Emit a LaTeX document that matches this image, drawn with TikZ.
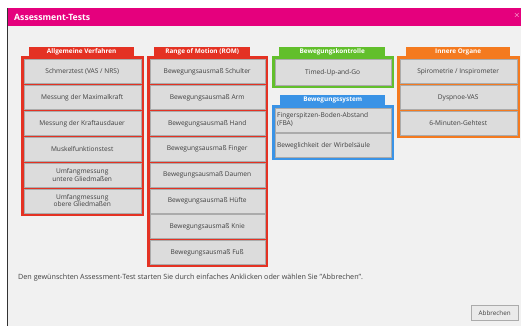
\documentclass[tikz,border=0pt]{standalone}
\usepackage{fontspec}
\setmainfont{Open Sans}
\usepackage{tikz}
\definecolor{titlemag}{HTML}{E5007D}
\definecolor{romred}{HTML}{E43223}
\definecolor{kontrgreen}{HTML}{62BF2C}
\definecolor{systblue}{HTML}{3A93E6}
\definecolor{organorange}{HTML}{F47A1F}
\definecolor{btnfill}{HTML}{DCDCDC}
\definecolor{btnline}{HTML}{ABABAB}
\definecolor{bgwin}{HTML}{F1F1F1}

\begin{document}
\begin{tikzpicture}[x=1pt, y=-1pt,
  btn/.style={draw=btnline, fill=btnfill, inner sep=0pt, anchor=north west,
    minimum height=24pt, align=center, text=black!75,
    font=\fontsize{6.6}{7.4}\selectfont},
  tab/.style={inner sep=0pt, anchor=north west, minimum height=10pt,
    text=white, font=\bfseries\fontsize{6.4}{6.4}\selectfont}]
\useasboundingbox (0,0) rectangle (521,326);
\fill[white] (0,0) rectangle (521,326);
% window
\fill[bgwin] (7,26) rectangle (521,326);
\fill[titlemag] (7,8) rectangle (521,26);
\draw[black!80, line width=1pt] (7,8) -- (7,326);
\node[anchor=west, text=white, font=\bfseries\fontsize{8.7}{9}\selectfont, inner sep=0pt] (title) at (14,17) {Assessment-Tests};
\node[text=white, font=\bfseries\fontsize{8}{8}\selectfont, inner sep=0pt] (close) at (517,16) {$\times$};

% Allgemeine Verfahren
\node[tab, fill=romred, minimum width=105pt] (tabAllg) at (29,47) {Allgemeine Verfahren};
\filldraw[romred, line width=1pt] (21,57) rectangle (143,215);
\node[btn, minimum width=117pt] (schmerz) at (23.5,59.5) {Schmerztest (VAS / NRS)};
\node[btn, minimum width=117pt] (maxkraft) at (23.5,85.3) {Messung der Maximalkraft};
\node[btn, minimum width=117pt] (kraftaus) at (23.5,111.1) {Messung der Kraftausdauer};
\node[btn, minimum width=117pt] (muskel) at (23.5,136.9) {Muskelfunktionstest};
\node[btn, minimum width=117pt] (umfUnten) at (23.5,162.7) {Umfangmessung\\untere Gliedmaßen};
\node[btn, minimum width=117pt] (umfOben) at (23.5,188.5) {Umfangmessung\\obere Gliedmaßen};

% Range of Motion
\node[tab, fill=romred, minimum width=96pt] (tabRom) at (154,47) {Range of Motion (ROM)};
\filldraw[romred, line width=1pt] (147,57) rectangle (267,266);
\node[btn, minimum width=115pt] (schulter) at (149.5,59.5) {Bewegungsausmaß Schulter};
\node[btn, minimum width=115pt] (arm) at (149.5,85.3) {Bewegungsausmaß Arm};
\node[btn, minimum width=115pt] (hand) at (149.5,111.1) {Bewegungsausmaß Hand};
\node[btn, minimum width=115pt] (finger) at (149.5,136.9) {Bewegungsausmaß Finger};
\node[btn, minimum width=115pt] (daumen) at (149.5,162.7) {Bewegungsausmaß Daumen};
\node[btn, minimum width=115pt] (huefte) at (149.5,188.5) {Bewegungsausmaß Hüfte};
\node[btn, minimum width=115pt] (knie) at (149.5,214.3) {Bewegungsausmaß Knie};
\node[btn, minimum width=115pt] (fuss) at (149.5,240.1) {Bewegungsausmaß Fuß};

% Bewegungskontrolle
\node[tab, fill=kontrgreen, minimum width=106pt] (tabKontr) at (279,47) {Bewegungskontrolle};
\filldraw[kontrgreen, line width=1pt] (272,57) rectangle (393,88);
\node[btn, minimum width=116pt, minimum height=25.5pt] (tug) at (274.5,59.5) {Timed-Up-and-Go};

% Bewegungssystem
\node[tab, fill=systblue, minimum width=105pt] (tabSyst) at (280,95) {Bewegungssystem};
\filldraw[systblue, line width=1pt] (272,105) rectangle (393,159.5);
\node[btn, minimum width=116pt, text width=111pt, align=left] (fba) at (274.5,107.5) {Fingerspitzen-Boden-Abstand\\(FBA)};
\node[btn, minimum width=116pt, text width=111pt, align=left] (wirbel) at (274.5,133.3) {Beweglichkeit der Wirbelsäule};

% Innere Organe
\node[tab, fill=organorange, minimum width=104pt] (tabOrgane) at (406,47) {Innere Organe};
\filldraw[organorange, line width=1pt] (397,57) rectangle (519,137.5);
\node[btn, minimum width=117pt] (spiro) at (399.5,59.5) {Spirometrie / Inspirometer};
\node[btn, minimum width=117pt] (dyspnoe) at (399.5,85.3) {Dyspnoe-VAS};
\node[btn, minimum width=117pt] (gehtest) at (399.5,111.1) {6-Minuten-Gehtest};

% footer
\node[anchor=west, inner sep=0pt, text=black!75, font=\fontsize{7.2}{8}\selectfont] (hint) at (18,278) {Den gewünschten Assessment-Test starten Sie durch einfaches Anklicken oder wählen Sie "Abbrechen".};
\node[draw=btnline, fill=btnfill!60, inner sep=0pt, anchor=north west, minimum width=47pt, minimum height=15pt, text=black!75, font=\fontsize{6.3}{7}\selectfont] (abbrechen) at (471,305) {Abbrechen};
\end{tikzpicture}
\end{document}
